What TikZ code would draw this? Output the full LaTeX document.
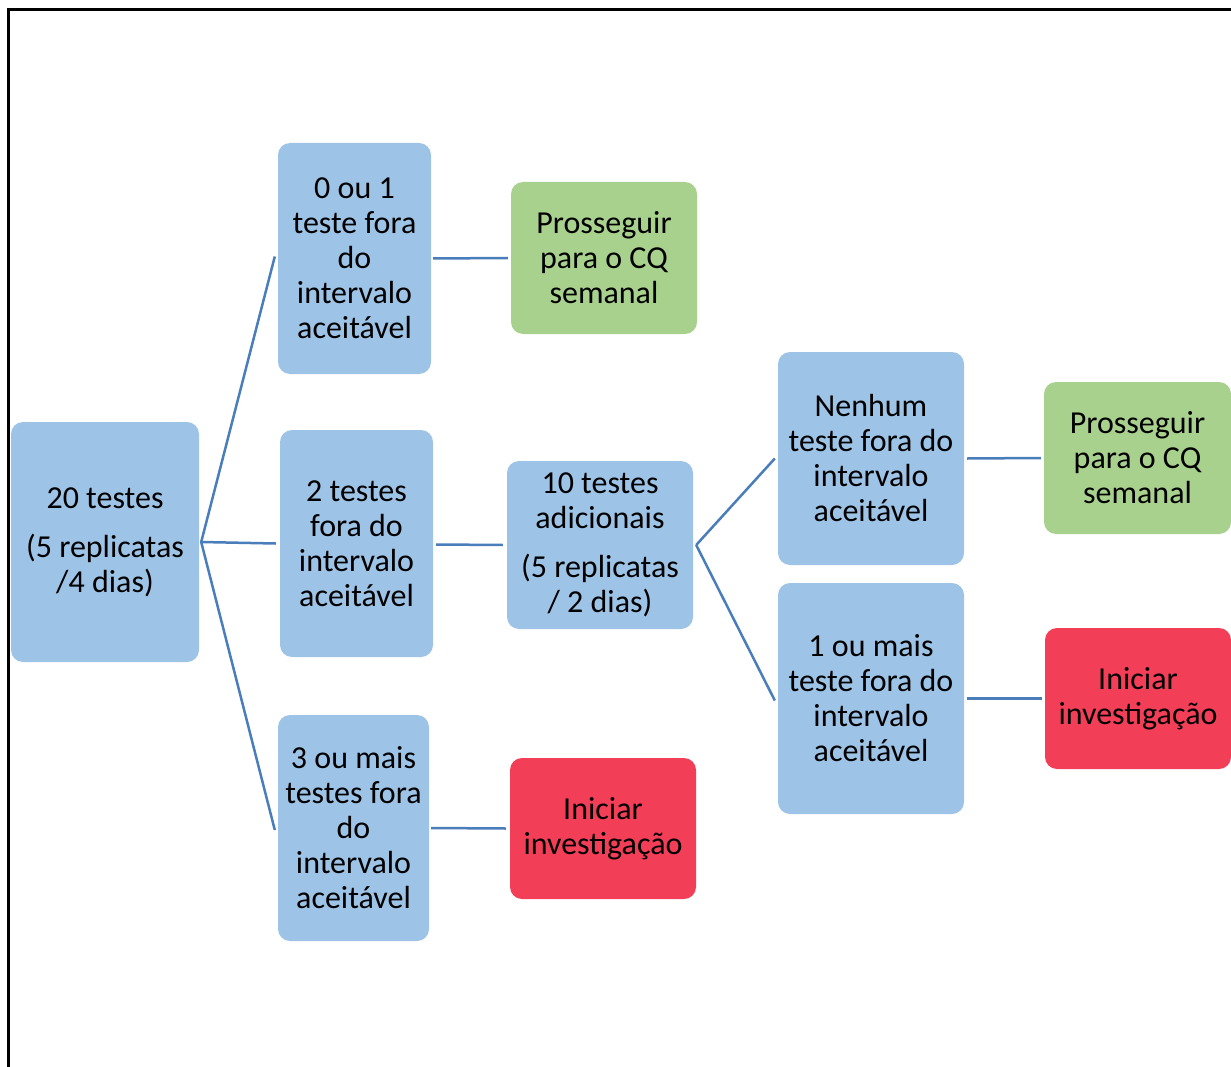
\documentclass[tikz,border=0pt]{standalone}
\usepackage{fontspec}
\setmainfont{Carlito}
\definecolor{bbox}{RGB}{157,195,230}
\definecolor{gbox}{RGB}{169,209,142}
\definecolor{rbox}{RGB}{243,62,88}
\definecolor{conn}{RGB}{74,126,187}
\begin{document}
\begin{tikzpicture}[x=1pt,y=-1pt,
  box/.style={rounded corners=12pt, inner sep=0pt, align=center, font=\fontsize{32}{35}\selectfont, text=black},
  bluebox/.style={box, fill=bbox},
  greenbox/.style={box, fill=gbox},
  redbox/.style={box, fill=rbox},
  link/.style={draw=conn, line width=2.5pt}]
\useasboundingbox (0,0) rectangle (1231,1067);
\draw[line width=3pt] (8,1068) -- (8,10) -- (1232,10);

\node[bluebox, minimum width=188pt, minimum height=240pt] (A) at (105,542) {20 testes\\[14pt](5 replicatas\\/4 dias)};
\node[bluebox, minimum width=153pt, minimum height=231pt] (B1) at (354.5,258.5) {0 ou 1\\teste fora\\do\\intervalo\\aceitável};
\node[bluebox, minimum width=153pt, minimum height=227pt] (B2) at (356.5,543.5) {2 testes\\fora do\\intervalo\\aceitável};
\node[bluebox, minimum width=151pt, minimum height=226pt] (B3) at (353.5,828) {3 ou mais\\testes fora\\do\\intervalo\\aceitável};
\node[greenbox, minimum width=186pt, minimum height=152pt] (C1) at (604,258) {Prosseguir\\para o CQ\\semanal};
\node[bluebox, minimum width=186pt, minimum height=168pt] (C2) at (600,545) {10 testes\\adicionais\\[14pt](5 replicatas\\/ 2 dias)};
\node[redbox, minimum width=186pt, minimum height=141pt] (C3) at (603,828.5) {Iniciar\\investigação};
\node[bluebox, minimum width=186pt, minimum height=213pt] (D1) at (871,458.5) {Nenhum\\teste fora do\\intervalo\\aceitável};
\node[bluebox, minimum width=186pt, minimum height=231pt] (D2) at (871,698.5) {1 ou mais\\teste fora do\\intervalo\\aceitável};
\node[greenbox, minimum width=187pt, minimum height=152pt] (E1) at (1137.5,458) {Prosseguir\\para o CQ\\semanal};
\node[redbox, minimum width=186pt, minimum height=141pt] (E2) at (1138,698.5) {Iniciar\\investigação};

\coordinate (a) at ([xshift=2pt]A.east);
\draw[link] (a) -- ([xshift=-3pt,yshift=2pt]B1.west);
\draw[link] (a) -- ([xshift=-4pt]B2.west);
\draw[link] (a) -- ([xshift=-3pt,yshift=-2pt]B3.west);
\draw[link] ([xshift=2pt]B1.east) -- ([xshift=-3pt]C1.west);
\draw[link] ([xshift=3pt,yshift=-1pt]B2.east) -- ([xshift=-4pt]C2.west);
\draw[link] ([xshift=2pt]B3.east) -- ([xshift=-4pt]C3.west);
\coordinate (c) at ([xshift=3pt]C2.east);
\draw[link] (c) -- ([xshift=-3pt]D1.west);
\draw[link] (c) -- ([xshift=-3pt,yshift=-2pt]D2.west);
\draw[link] ([xshift=3pt]D1.east) -- ([xshift=-3pt]E1.west);
\draw[link] ([xshift=3pt]D2.east) -- ([xshift=-3pt]E2.west);
\end{tikzpicture}
\end{document}
